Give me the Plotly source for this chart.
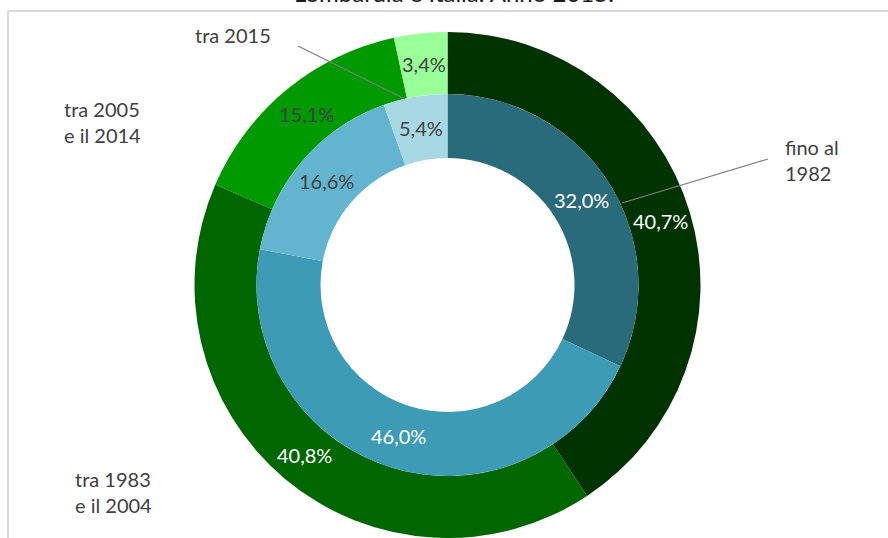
import math
import plotly.graph_objects as go

# ---- data ----
categories = ["fino al 1982", "tra 1983 e il 2004", "tra 2005 e il 2014", "tra 2015"]
outer_values = [40.7, 40.8, 15.1, 3.4]   # outer ring (green)
inner_values = [32.0, 46.0, 16.6, 5.4]   # inner ring (blue)
outer_labels_text = ["fino al<br>1982", "tra 1983<br>e il 2004", "tra 2005<br>e il 2014", "tra 2015"]
title_text = "Lombardia e Italia. Anno 2015."

# ---- style ----
W, H = 888, 538
outer_colors = ["#003300", "#006600", "#009900", "#99FF99"]
inner_colors = ["#296A7B", "#3D9BB6", "#63B5CF", "#A9D8E5"]
outer_text_colors = ["white", "white", "#404040", "#404040"]
inner_text_colors = ["white", "white", "#404040", "#404040"]
FONT = "Lato"
CX, CY = 447.5, 285.0
R_OUT, R_MID, R_IN = 253.0, 191.0, 127.0


def px(x):
    return x / W


def py(y):
    return (H - y) / H


fig = go.Figure()
fig.add_trace(go.Pie(
    labels=categories, values=outer_values, sort=False, direction="clockwise",
    rotation=0, hole=R_MID / R_OUT, textinfo="none", hoverinfo="label+value",
    marker=dict(colors=outer_colors, line=dict(width=0)),
    domain=dict(x=[px(CX - R_OUT), px(CX + R_OUT)], y=[py(CY + R_OUT), py(CY - R_OUT)]),
    showlegend=False,
))
fig.add_trace(go.Pie(
    labels=categories, values=inner_values, sort=False, direction="clockwise",
    rotation=0, hole=R_IN / R_MID, textinfo="none", hoverinfo="label+value",
    marker=dict(colors=inner_colors, line=dict(width=0)),
    domain=dict(x=[px(CX - R_MID), px(CX + R_MID)], y=[py(CY + R_MID), py(CY - R_MID)]),
    showlegend=False,
))

annotations = []


def ring_labels(values, r_a, r_b, colors):
    total = sum(values)
    cum = 0.0
    rm = (r_a + r_b) / 2
    for v, c in zip(values, colors):
        mid = (cum + v / 2) / total * 2 * math.pi
        cum += v
        x = CX + rm * math.sin(mid)
        y = CY - rm * math.cos(mid)
        annotations.append(dict(
            x=px(x), y=py(y), xref="paper", yref="paper", showarrow=False,
            text=f"{v:.1f}%".replace(".", ","),
            font=dict(family=FONT, size=20, color=c),
            xanchor="center", yanchor="middle",
        ))


ring_labels(outer_values, R_MID, R_OUT, outer_text_colors)
ring_labels(inner_values, R_IN, R_MID, inner_text_colors)

# category labels (outside)
cat_pos = [(783, 160, "left"), (73, 492, "left"), (62, 122, "left"), (193, 35, "left")]
for t, (x, y, anc) in zip(outer_labels_text, cat_pos):
    annotations.append(dict(
        x=px(x), y=py(y), xref="paper", yref="paper", showarrow=False,
        text=t, align="left", font=dict(family=FONT, size=20, color="#404040"),
        xanchor=anc, yanchor="middle",
    ))

# title (partially cut by the top edge)
annotations.append(dict(
    x=px(454), y=py(9.5), xref="paper", yref="paper", showarrow=False,
    text=title_text, font=dict(family=FONT, size=24, color="#1a1a1a"),
    xanchor="center", yanchor="bottom",
))

shapes = [
    # leader lines
    dict(type="line", xref="paper", yref="paper", x0=px(768), y0=py(159), x1=px(622), y1=py(203),
         line=dict(color="#7f7f7f", width=1.2)),
    dict(type="line", xref="paper", yref="paper", x0=px(298), y0=py(46), x1=px(405), y1=py(99),
         line=dict(color="#7f7f7f", width=1.2)),
    # chart border
    dict(type="line", xref="paper", yref="paper", x0=px(8), y0=py(11), x1=px(888), y1=py(11),
         line=dict(color="#d9d9d9", width=2)),
    dict(type="line", xref="paper", yref="paper", x0=px(8), y0=py(11), x1=px(8), y1=py(538),
         line=dict(color="#d9d9d9", width=2)),
]

fig.update_layout(
    width=W, height=H, margin=dict(l=0, r=0, t=0, b=0),
    paper_bgcolor="white", plot_bgcolor="white",
    annotations=annotations, shapes=shapes,
)

fig.write_html(
    "out.html",
    config={"displayModeBar": False},
    post_script="document.body.style.margin='0';document.body.style.overflow='hidden';",
)
